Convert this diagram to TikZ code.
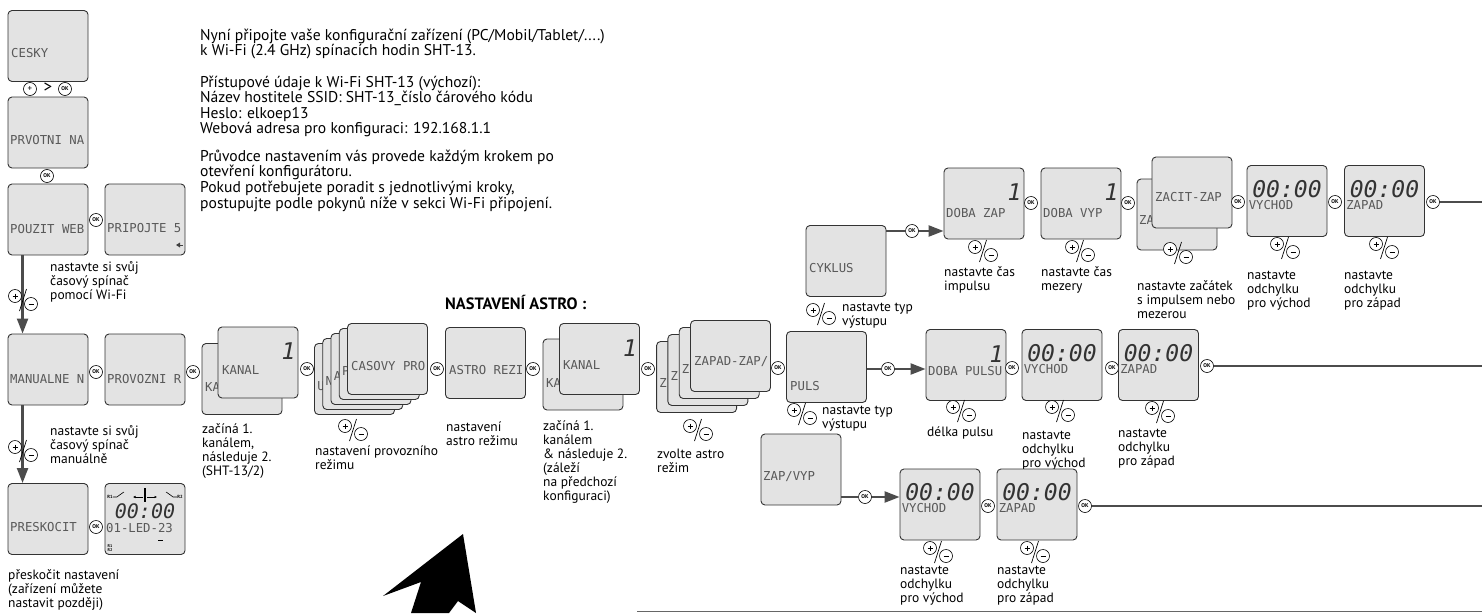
\documentclass[tikz,border=0pt]{standalone}
\usepackage{fontspec}
\setmainfont{PT Sans}
\newfontfamily\lcdfont{DejaVu Sans Mono}
\usetikzlibrary{arrows.meta}
\tikzset{
  lcd/.style={draw=black!80, fill=black!11, line width=0.9pt, rounded corners=4pt,
    minimum width=80pt, minimum height=71pt, inner sep=0pt},
  lcdtxt/.style={anchor=west, inner sep=0pt, text=black!65,
    font=\lcdfont\fontsize{12.3}{12.3}\selectfont},
  lcddig/.style={inner sep=0pt, text=black!80,
    font=\lcdfont\itshape\fontsize{23}{23}\selectfont},
  okbtn/.style={circle, draw, fill=white, line width=0.6pt, minimum size=13pt,
    inner sep=0pt, font=\bfseries\fontsize{5.5}{5.5}\selectfont},
  wire/.style={draw=black!70, line width=2.3pt},
  arrow/.style={wire, -{Triangle[length=15pt,width=11pt]}},
  note/.style={anchor=north west, inner sep=0pt, align=left,
    font=\fontsize{13.5}{14}\selectfont, execute at begin node=\strut},
  info/.style={note, font=\fontsize{15.6}{13.5}\selectfont},
  pm/.pic={
    \draw[line width=0.6pt, fill=white] (-8,-4) circle (6.5pt) (8,4) circle (6.5pt);
    \draw[line width=0.5pt] (-10.5,-4) -- (-5.5,-4) (-8,-6.5) -- (-8,-1.5) (5.5,4) -- (10.5,4);
    \draw[line width=0.7pt] (3.5,-11) -- (-3.5,11);
  }
}
% screen with one line of text
\newcommand{\lcdscreen}[4]{%
  \node[lcd] (#1) at (#2) {};
  \node[lcdtxt] (#1-txt) at (#3) {#4};}
% screen with a time and a line of text
\newcommand{\lcdtime}[3]{%
  \node[lcd] (#1) at (#2) {};
  \node[lcddig] (#1-time) at ([yshift=12pt]#1.center) {00:00};
  \node[lcdtxt] (#1-txt) at ([xshift=2pt,yshift=-4pt]#1.west) {#3};}
% screen with a channel digit
\newcommand{\lcddigit}[1]{%
  \node[lcddig] (#1-dig) at ([xshift=-10pt,yshift=11pt]#1.east) {1};}

\begin{document}
\begin{tikzpicture}[x=1pt,y=-1pt]
  \useasboundingbox (0,0) rectangle (1482,613);

  % left column
  \lcdscreen{cesky}{48,46}{11,53}{CESKY}
  \node[okbtn, font=\fontsize{9}{9}\selectfont] (pluscz) at (30,89) {+};
  \node[inner sep=0pt, font=\fontsize{17}{17}\selectfont] (gtcz) at (48,88) {>};
  \node[okbtn] (okcz) at (65,89) {OK};
  \lcdscreen{prvotni}{48,132.5}{10,140}{PRVOTNI NA}
  \node[okbtn] (okprv) at (47,176) {OK};
  \lcdscreen{pouzit}{48,219.5}{10,229}{POUZIT WEB}
  \node[okbtn] (okweb) at (96,220) {OK};
  \lcdscreen{pripojte}{145,219.5}{107,228}{PRIPOJTE 5}
  \fill[black!75] (176,245) -- (180,242.5) -- (180,247.5) -- cycle;
  \draw[black!75, line width=0.6pt] (180,245) -- (183,245);

  \lcdscreen{manualne}{48,369.5}{10,379}{MANUALNE N}
  \node[okbtn] (okman) at (96,372) {OK};
  \lcdscreen{provozni}{145,369.5}{107,379}{PROVOZNI R}
  \node[okbtn] (okprov) at (193,372) {OK};
  \lcdscreen{preskocit}{48,519}{10,527}{PRESKOCIT}
  \node[okbtn] (okskip) at (96,527) {OK};

  % clock screen
  \node[lcd] (clock) at (145,519) {};
  \node[inner sep=0pt, font=\bfseries\fontsize{4.5}{4.5}\selectfont] (clock-r1) at (110,497) {R1};
  \node[inner sep=0pt, font=\bfseries\fontsize{4.5}{4.5}\selectfont] (clock-r2) at (180,497) {R2};
  \draw[line width=0.6pt] (clock-r1.east) -- ++(4,0) -- ++(7,-5);
  \draw[line width=0.6pt] (clock-r2.west) -- ++(-4,0) -- ++(-7,-5);
  \draw[line width=1.2pt] (145,488) -- (145,502);
  \draw[line width=0.6pt, -{Latex[length=2.5pt,width=2.5pt]}] (143,497) -- (133,497);
  \draw[line width=0.6pt, -{Latex[length=2.5pt,width=2.5pt]}] (147,497) -- (157,497);
  \node[lcddig, font=\lcdfont\itshape\fontsize{20}{20}\selectfont] (clock-time) at (145,511) {00:00};
  \node[lcdtxt] (clock-date) at (106,528) {01-LED-23};
  \draw[line width=0.6pt] (158,540) -- (163,540);
  \node[inner sep=0pt, align=left, font=\bfseries\fontsize{4}{4.5}\selectfont] (clock-r12) at (110,548) {R1\\R2};

  % left column connectors
  \draw[arrow] ([xshift=15pt]pouzit.south west) -- ([xshift=15pt]manualne.north west);
  \pic at (23,300) {pm};
  \draw[arrow] ([xshift=15pt]manualne.south west) -- ([xshift=15pt]preskocit.north west);
  \pic at (23,451) {pm};

  \node[note] (webnote) at (50,261.5) {nastavte si svůj\\časový spínač\\pomocí Wi-Fi};
  \node[note] (mannote) at (50,425.5) {nastavte si svůj\\časový spínač\\manuálně};
  \node[note] (skipnote) at (8,569.5) {přeskočit nastavení\\(zařízení můžete\\nastavit později)};

  % instructions
  \node[info] (info1) at (200,28.5) {Nyní připojte vaše konfigurační zařízení (PC/Mobil/Tablet/....)\\k Wi-Fi (2.4 GHz) spínacích hodin SHT-13.};
  \node[info] (info2) at (200,75.5) {Přístupové údaje k Wi-Fi SHT-13 (výchozí):\\Název hostitele SSID: SHT-13\_číslo čárového kódu\\Heslo: elkoep13\\Webová adresa pro konfiguraci: 192.168.1.1};
  \node[info] (info3) at (200,149.5) {Průvodce nastavením vás provede každým krokem po\\otevření konfigurátoru.\\Pokud potřebujete poradit s jednotlivými kroky,\\postupujte podle pokynů níže v sekci Wi-Fi připojení.};

  % middle row
  \node[lcd] (kanalAback) at (242,379) {};
  \node[lcdtxt] (kanalAback-txt) at (205,387) {KA};
  \lcdscreen{kanalA}{258,362.5}{222,370}{KANAL}
  \lcddigit{kanalA}
  \node[okbtn] (okkan) at (307,369) {OK};
  \foreach \i/\c in {4/U,3/N,2/A,1/P}{
    \node[lcd] (casovy\i) at ({387.5-8.25*\i},{359+5*\i}) {};
    \node[lcdtxt] (casovy\i-txt) at ([xshift=3pt,yshift=-7pt]casovy\i.west) {\c};
  }
  \lcdscreen{casovy}{387.5,359}{351,366}{CASOVY PRO}
  \pic at (353,430) {pm};
  \node[okbtn] (okcas) at (437,369) {OK};
  \lcdscreen{astro}{485.5,363}{449,370}{ASTRO REZI}
  \node[okbtn] (okast) at (533,369) {OK};
  \node[lcd] (kanalBback) at (583,374.5) {};
  \node[lcdtxt] (kanalBback-txt) at (546,383) {KA};
  \lcdscreen{kanalB}{599.5,359}{563,365}{KANAL}
  \lcddigit{kanalB}
  \node[okbtn] (okkan2) at (648,369) {OK};
  \foreach \i in {3,2,1}{
    \node[lcd] (zapad\i) at ({730.5-11.3*\i},{356+7*\i}) {};
    \node[lcdtxt] (zapad\i-txt) at ([xshift=3pt,yshift=-6pt]zapad\i.west) {Z};
  }
  \lcdscreen{zapad}{730.5,356}{694,362}{ZAPAD-ZAP/}
  \pic at (698,430) {pm};
  \node[okbtn] (okzap) at (778,368) {OK};

  \node[inner sep=0pt, anchor=north west, font=\bfseries\fontsize{16.4}{14}\selectfont] (astrohead) at (445,295.5) {NASTAVENÍ ASTRO :};
  \node[note] (kanAnote) at (202,423.5) {začíná 1.\\kanálem,\\následuje 2.\\(SHT-13/2)};
  \node[note] (casnote) at (315,445.5) {nastavení provozního\\režimu};
  \node[note] (astnote) at (446,421.5) {nastavení\\astro režimu};
  \node[note] (kanBnote) at (543,420.5) {začíná 1.\\kanálem\\\& následuje 2.\\(záleží\\na předchozí\\konfiguraci)};
  \node[note] (zapnote) at (657,448.5) {zvolte astro\\režim};

  % output types
  \lcdscreen{puls}{826.5,367}{790,386}{PULS}
  \pic at (821,314) {pm};
  \node[note] (pulsAnote) at (842,302.5) {nastavte typ\\výstupu};
  \pic at (802,414) {pm};
  \node[note] (pulsBnote) at (822,405.5) {nastavte typ\\výstupu};
  \lcdscreen{cyklus}{846,261}{809,268}{CYKLUS}
  \lcdscreen{zapvyp}{801,469.5}{763,477}{ZAP/VYP}

  % cycle branch
  \node[okbtn] (okcyk) at (912,231) {OK};
  \lcdscreen{dobazap}{984,203.5}{946,213}{DOBA ZAP}
  \lcddigit{dobazap}
  \node[okbtn] (okdz) at (1031,203) {OK};
  \lcdscreen{dobavyp}{1081,203.5}{1043,213}{DOBA VYP}
  \lcddigit{dobavyp}
  \node[okbtn] (okdv) at (1128,203) {OK};
  \node[lcd] (zacitback) at (1177,214.5) {};
  \node[lcdtxt] (zacitback-txt) at (1139,220) {ZA};
  \lcdscreen{zacit}{1192,192.5}{1155,197}{ZACIT-ZAP}
  \node[okbtn] (okzac) at (1238,202) {OK};
  \lcdtime{vychodA}{1287,201}{VYCHOD}
  \node[okbtn] (okvyA) at (1335,202) {OK};
  \lcdtime{zapadA}{1384.5,201}{ZAPAD}
  \node[okbtn] (okzaA) at (1433,202) {OK};
  \coordinate (endA) at (1482,202);
  \draw[wire] (cyklus.east |- okcyk) -- (okcyk);
  \draw[arrow] (okcyk) -- (dobazap.west |- okcyk);
  \draw[wire] (okzaA) -- (endA);
  \pic at (983,251) {pm};
  \pic at (1080,251) {pm};
  \pic at (1178,253) {pm};
  \pic at (1285,248) {pm};
  \pic at (1384,248) {pm};
  \node[note] (dznote) at (944,266.5) {nastavte čas\\impulsu};
  \node[note] (dvnote) at (1041,266.5) {nastavte čas\\mezery};
  \node[note] (zacnote) at (1137,280.5) {nastavte začátek\\s impulsem nebo\\mezerou};
  \node[note] (vyAnote) at (1247,270.5) {nastavte\\odchylku\\pro východ};
  \node[note] (zaAnote) at (1344,270.5) {nastavte\\odchylku\\pro západ};

  % pulse branch
  \node[okbtn] (okpul) at (888,369) {OK};
  \lcdscreen{dobapulsu}{966,365}{928,371}{DOBA PULSU}
  \lcddigit{dobapulsu}
  \node[okbtn] (okdp) at (1012,368) {OK};
  \lcdtime{vychodB}{1062,365}{VYCHOD}
  \node[okbtn] (okvyB) at (1112,368) {OK};
  \lcdtime{zapadB}{1158.5,365}{ZAPAD}
  \node[okbtn] (okzaB) at (1207,366) {OK};
  \coordinate (endB) at (1482,366);
  \draw[wire] (puls.east |- okpul) -- (okpul);
  \draw[arrow] (okpul) -- (dobapulsu.west |- okpul);
  \draw[wire] (okzaB) -- (endB);
  \pic at (961,411) {pm};
  \pic at (1060,411) {pm};
  \pic at (1160,412) {pm};
  \node[note] (dpnote) at (927,426.5) {délka pulsu};
  \node[note] (vyBnote) at (1022,430.5) {nastavte\\odchylku\\pro východ};
  \node[note] (zaBnote) at (1118,428.5) {nastavte\\odchylku\\pro západ};

  % on/off branch
  \node[okbtn] (okzv) at (865,497) {OK};
  \lcdtime{vychodC}{940,504.5}{VYCHOD}
  \node[okbtn] (okvyC) at (988,506) {OK};
  \lcdtime{zapadC}{1037,504.5}{ZAPAD}
  \node[okbtn] (okzaC) at (1085,506) {OK};
  \coordinate (endC) at (1482,506);
  \draw[wire] (zapvyp.east |- okzv) -- (okzv);
  \draw[arrow] (okzv) -- (vychodC.west |- okzv);
  \draw[wire] (okzaC) -- (endC);
  \pic at (938,552) {pm};
  \pic at (1035,552) {pm};
  \node[note] (vyCnote) at (900,566) {nastavte\\odchylku\\pro východ};
  \node[note] (zaCnote) at (997,566) {nastavte\\odchylku\\pro západ};

  % big pointer and bottom rule
  \fill (463,534) -- (476,613) -- (458,601) -- (449,613) -- (411,613) -- (421,582) -- (383,596) -- cycle;
  \draw[black!60, line width=1.5pt] (637,611.5) -- (1482,611.5);
\end{tikzpicture}
\end{document}
